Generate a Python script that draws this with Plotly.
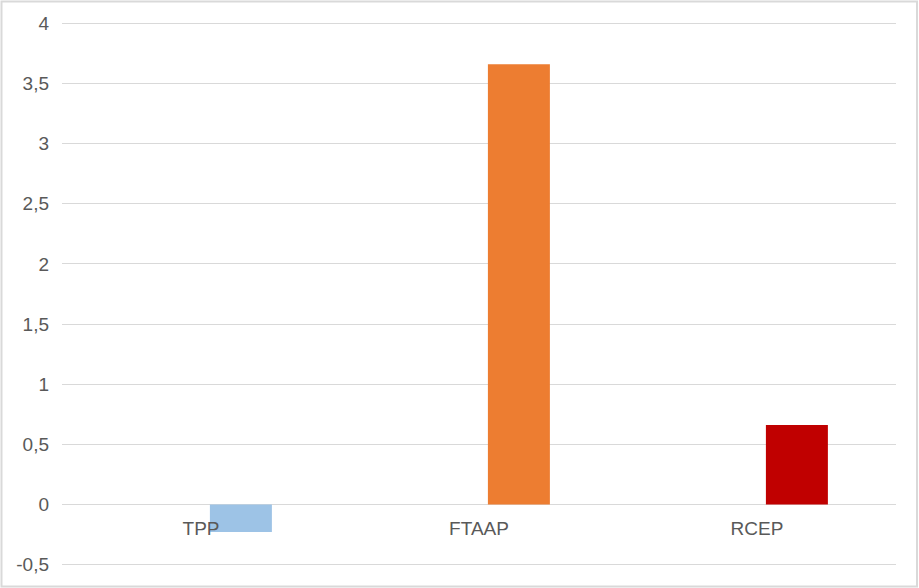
import plotly.graph_objects as go

categories = ["TPP", "FTAAP", "RCEP"]
values = [-0.23, 3.66, 0.66]
colors = ["#9DC3E6", "#ED7D31", "#C00000"]
y_tickvals = [-0.5, 0, 0.5, 1, 1.5, 2, 2.5, 3, 3.5, 4]
y_ticktext = ["-0,5", "0", "0,5", "1", "1,5", "2", "2,5", "3", "3,5", "4"]

W, H = 919, 588
ml, mr, mt, mb = 62, 23, 21, 21
pw, ph = W - ml - mr, H - mt - mb

fig = go.Figure()
fig.add_trace(go.Bar(
    x=categories, y=values,
    marker=dict(color=colors, line=dict(width=0)),
    offset=0.032, width=0.223,
    showlegend=False,
))

y0, y1 = -0.5, 4
eps = 0.02
zero_pos = (0 - (y0 - eps)) / ((y1 + eps) - (y0 - eps))

fig.update_layout(
    width=W, height=H,
    margin=dict(l=ml, r=mr, t=mt, b=mb, autoexpand=False),
    paper_bgcolor="white", plot_bgcolor="white",
    font=dict(family="Liberation Sans, Arial, sans-serif", size=19, color="#595959"),
    separators=", ",
    xaxis=dict(
        type="category", range=[-0.5, 2.5],
        anchor="free", position=zero_pos,
        showline=False, showgrid=False, zeroline=False,
        ticks="", automargin=False, ticklabelstandoff=11,
        tickfont=dict(size=19, color="#595959"),
    ),
    yaxis=dict(
        range=[y0 - eps, y1 + eps], tickvals=y_tickvals, ticktext=y_ticktext,
        showgrid=True, gridcolor="#D9D9D9", gridwidth=1,
        zeroline=True, zerolinecolor="#D9D9D9", zerolinewidth=1,
        showline=False, ticks="", automargin=False, ticklabelstandoff=12,
        tickfont=dict(size=19, color="#595959"),
    ),
    shapes=[dict(
        type="rect", xref="paper", yref="paper",
        x0=(1.5 - ml) / pw, x1=(917 - ml) / pw,
        y0=(mt + ph - 586.5) / ph, y1=(mt + ph - 1.5) / ph,
        line=dict(color="#D9D9D9", width=2), fillcolor="rgba(0,0,0,0)",
        layer="below",
    )],
)

fig.write_html("out.html", config={"displayModeBar": False},
               post_script="document.body.style.margin='0';")
